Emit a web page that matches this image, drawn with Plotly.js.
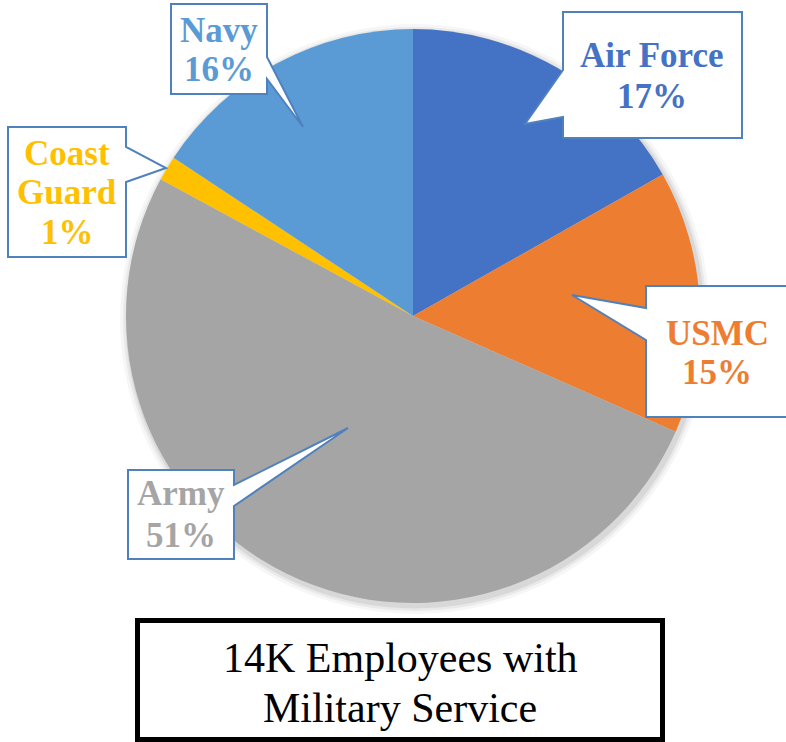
<!DOCTYPE html>
<html>
<head>
<meta charset="utf-8">
<script src="https://cdn.plot.ly/plotly-3.0.1.min.js"></script>
</head>
<body style="margin:0">
<div style="position:relative;width:786px;height:742px;">
  <div id="chart" style="position:absolute;left:0;top:0;"></div>
  <div id="labels" style="position:absolute;left:0;top:0;"></div>
</div>
<script>
// ---- data ----
const categories = ['Air Force', 'USMC', 'Army', 'Coast Guard', 'Navy'];
const shares = [16.8, 14.8, 51.3, 1.4, 15.7];
const sliceColors = ['#4472C4', '#ED7D31', '#A5A5A5', '#FFC000', '#5B9BD5'];
const titleLines = ['14K Employees with', 'Military Service'];

// ---- layout helpers (pixel -> paper) ----
const W = 786, H = 742;
const px = x => x / W;
const py = y => 1 - y / H;
function pathFrom(points) {
  return 'M ' + points.map(p => px(p[0]).toFixed(5) + ',' + py(p[1]).toFixed(5)).join(' L ') + ' Z';
}

const total = shares.reduce((a, b) => a + b, 0);
const pctText = shares.map(v => Math.round(v / total * 100) + '%');

// callout boxes (pixel geometry), one per category
const callouts = [
  {cat: 'Air Force', cx: 652, base: [68, 108], wrap: false,
   pts: [[563,12],[742,12],[742,138],[563,138],[563,117],[525,124],[563,70]]},
  {cat: 'USMC', cx: 717, base: [345, 384], wrap: false,
   pts: [[646,286],[792,286],[792,417],[646,417],[646,340],[572,295],[646,308]]},
  {cat: 'Army', cx: 181, base: [505, 547], wrap: false,
   pts: [[128,470],[234,470],[234,485],[348,428],[234,506],[234,559],[128,559]]},
  {cat: 'Coast Guard', cx: 67, base: [165, 205, 245], wrap: true,
   pts: [[8,127],[126,127],[126,147],[166,168],[126,182],[126,257],[8,257]]},
  {cat: 'Navy', cx: 219, base: [42, 82], wrap: false,
   pts: [[171,4],[267,4],[267,57],[303,127],[267,79],[267,94],[171,94]]}
];

const shapes = [];
const annotations = [];

// soft shadow behind the pie
const pcx = 413, pcy = 316, R = 287;
[[8, 0.035], [5, 0.05], [2.5, 0.07]].forEach(([e, a]) => {
  shapes.push({type: 'circle', xref: 'paper', yref: 'paper', layer: 'below',
    x0: px(pcx - R - e + 2), x1: px(pcx + R + e + 2), y0: py(pcy + R + e + 3), y1: py(pcy - R - e + 3),
    fillcolor: 'rgba(0,0,0,' + a + ')', line: {width: 0}});
});

callouts.forEach(c => {
  const i = categories.indexOf(c.cat);
  shapes.push({type: 'path', xref: 'paper', yref: 'paper', layer: 'above',
    path: pathFrom(c.pts), fillcolor: '#FFFFFF', line: {color: '#4F81BD', width: 2}});
  const lines = (c.wrap ? c.cat.split(' ') : [c.cat]).concat([pctText[i]]);
  lines.forEach((t, k) => {
    annotations.push({xref: 'paper', yref: 'paper', x: px(c.cx), y: py(c.base[k] - 12),
      xanchor: 'center', yanchor: 'middle', showarrow: false, text: '<b>' + t + '</b>',
      font: {family: 'Liberation Serif', size: 35, color: sliceColors[i]}});
  });
});

// title box
shapes.push({type: 'rect', xref: 'paper', yref: 'paper', layer: 'above',
  x0: px(137.5), x1: px(662.5), y0: py(739.5), y1: py(620.5),
  fillcolor: '#FFFFFF', line: {color: '#000000', width: 5}});
const titleBase = [672, 722];
titleLines.forEach((t, k) => {
  annotations.push({xref: 'paper', yref: 'paper', x: px(400), y: py(titleBase[k] - 14),
    xanchor: 'center', yanchor: 'middle', showarrow: false, text: t,
    font: {family: 'Liberation Serif', size: 42, color: '#000000'}});
});

const trace = {
  type: 'pie',
  labels: categories,
  values: shares,
  marker: {colors: sliceColors},
  sort: false,
  direction: 'clockwise',
  rotation: 0,
  textinfo: 'none',
  showlegend: false,
  domain: {x: [px(pcx - R), px(pcx + R)], y: [py(pcy + R), py(pcy - R)]}
};

const config = {displayModeBar: false, staticPlot: true};

// pie with callout frames and title frame
Plotly.newPlot('chart', [trace], {
  width: W, height: H,
  margin: {l: 0, r: 0, t: 0, b: 0},
  showlegend: false,
  shapes: shapes
}, config);

// text layer on top (transparent)
Plotly.newPlot('labels', [], {
  width: W, height: H,
  margin: {l: 0, r: 0, t: 0, b: 0},
  paper_bgcolor: 'rgba(0,0,0,0)',
  plot_bgcolor: 'rgba(0,0,0,0)',
  xaxis: {visible: false},
  yaxis: {visible: false},
  showlegend: false,
  annotations: annotations
}, config);
</script>
</body>
</html>
